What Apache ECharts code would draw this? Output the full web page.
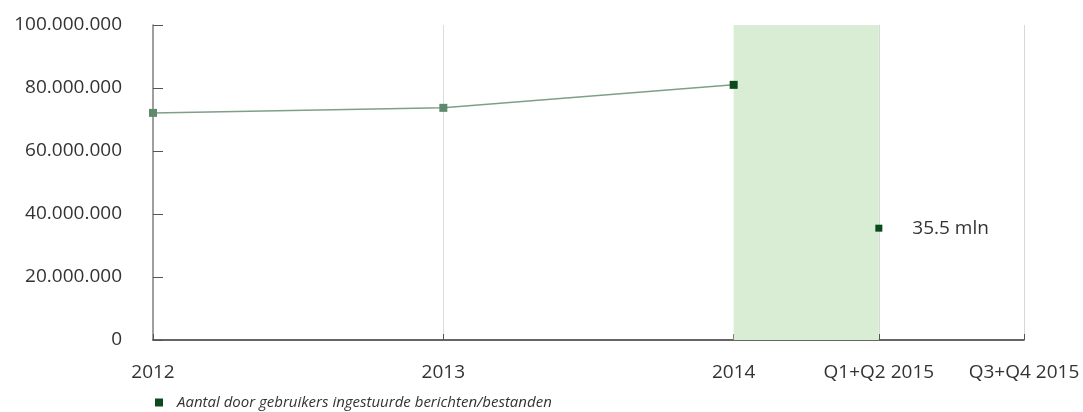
<!DOCTYPE html>
<html>
<head>
<meta charset="utf-8">
<script src="https://cdn.jsdelivr.net/npm/echarts@6/dist/echarts.min.js"></script>
<style>html,body{margin:0;padding:0;background:#fff}#c{width:1083px;height:412px}</style>
</head>
<body>
<div id="c"></div>
<script>
// x positions in years; half-year periods of 2015 placed at 2014.5 and 2015
const tickPositions = [2012, 2013, 2014, 2014.5, 2015];
const tickLabels = ['2012', '2013', '2014', 'Q1+Q2 2015', 'Q3+Q4 2015'];
const yearX = [2012, 2013, 2014];
const yearValues = [72100000, 73700000, 81000000];
const halfX = [2014.5];
const halfValues = [35500000];
const halfLabel = '35.5 mln';
const bandRange = [2014, 2014.5];
const seriesName = 'Aantal door gebruikers ingestuurde berichten/bestanden';

const FONT = '"Open Sans", sans-serif';
const DARK = '#0b4a1c';
const LIGHT = '#5f8a6c';

function fmtDots(v) {
  return String(Math.round(v)).replace(/\B(?=(\d{3})+(?!\d))/g, '.');
}

const chart = echarts.init(document.getElementById('c'));
chart.setOption({
  animation: false,
  grid: { left: 153, right: 59, top: 25, bottom: 72 },
  legend: {
    left: 150, top: 390,
    itemWidth: 8, itemHeight: 8, itemGap: 10,
    textStyle: { fontFamily: FONT, fontSize: 15, fontStyle: 'italic', color: '#333', padding: [0, 0, 0, 9] },
    data: [{ name: seriesName, icon: 'rect', itemStyle: { color: DARK } }]
  },
  xAxis: {
    type: 'value',
    min: 2012, max: 2015, interval: 0.5,
    axisLine: { lineStyle: { color: '#333', width: 1.5 } },
    axisTick: { show: true, inside: true, length: 6, customValues: tickPositions, lineStyle: { color: '#555' } },
    axisLabel: {
      customValues: tickPositions,
      fontFamily: FONT, fontSize: 19, color: '#333', margin: 23,
      formatter: v => { const i = tickPositions.indexOf(v); return i >= 0 ? tickLabels[i] : ''; }
    },
    splitLine: {
      show: true,
      lineStyle: { color: ['transparent', '#dcdcdc', 'transparent', '#d8d8d8', '#d8d8d8', '#dcdcdc'], width: 1 }
    }
  },
  yAxis: {
    type: 'value',
    min: 0, max: 100000000, interval: 20000000,
    axisLine: { show: true, lineStyle: { color: '#7f7f7f', width: 1.5 } },
    axisTick: { show: true, inside: true, length: 10, lineStyle: { color: '#555' } },
    axisLabel: { fontFamily: FONT, fontSize: 19, color: '#333', margin: 31, formatter: fmtDots },
    splitLine: { show: false }
  },
  series: [
    {
      name: seriesName,
      type: 'line',
      color: DARK,
      symbol: 'rect', symbolSize: 8,
      lineStyle: { color: '#7f9f88', width: 1.5 },
      data: yearX.map((x, i) => ({
        value: [x, yearValues[i]],
        itemStyle: { color: i === yearX.length - 1 ? DARK : LIGHT }
      })),
      markArea: {
        silent: true,
        itemStyle: { color: '#d9ecd4' },
        data: [[{ xAxis: bandRange[0] }, { xAxis: bandRange[1] }]]
      },
      z: 3
    },
    {
      name: seriesName,
      type: 'scatter',
      color: DARK,
      symbol: 'rect', symbolSize: 7,
      itemStyle: { color: DARK, opacity: 1 },
      data: halfX.map((x, i) => [x, halfValues[i]]),
      label: {
        show: true, position: 'right', distance: 30,
        formatter: halfLabel,
        fontFamily: FONT, fontSize: 19, color: '#333', opacity: 1
      },
      z: 3
    }
  ]
});
</script>
</body>
</html>
